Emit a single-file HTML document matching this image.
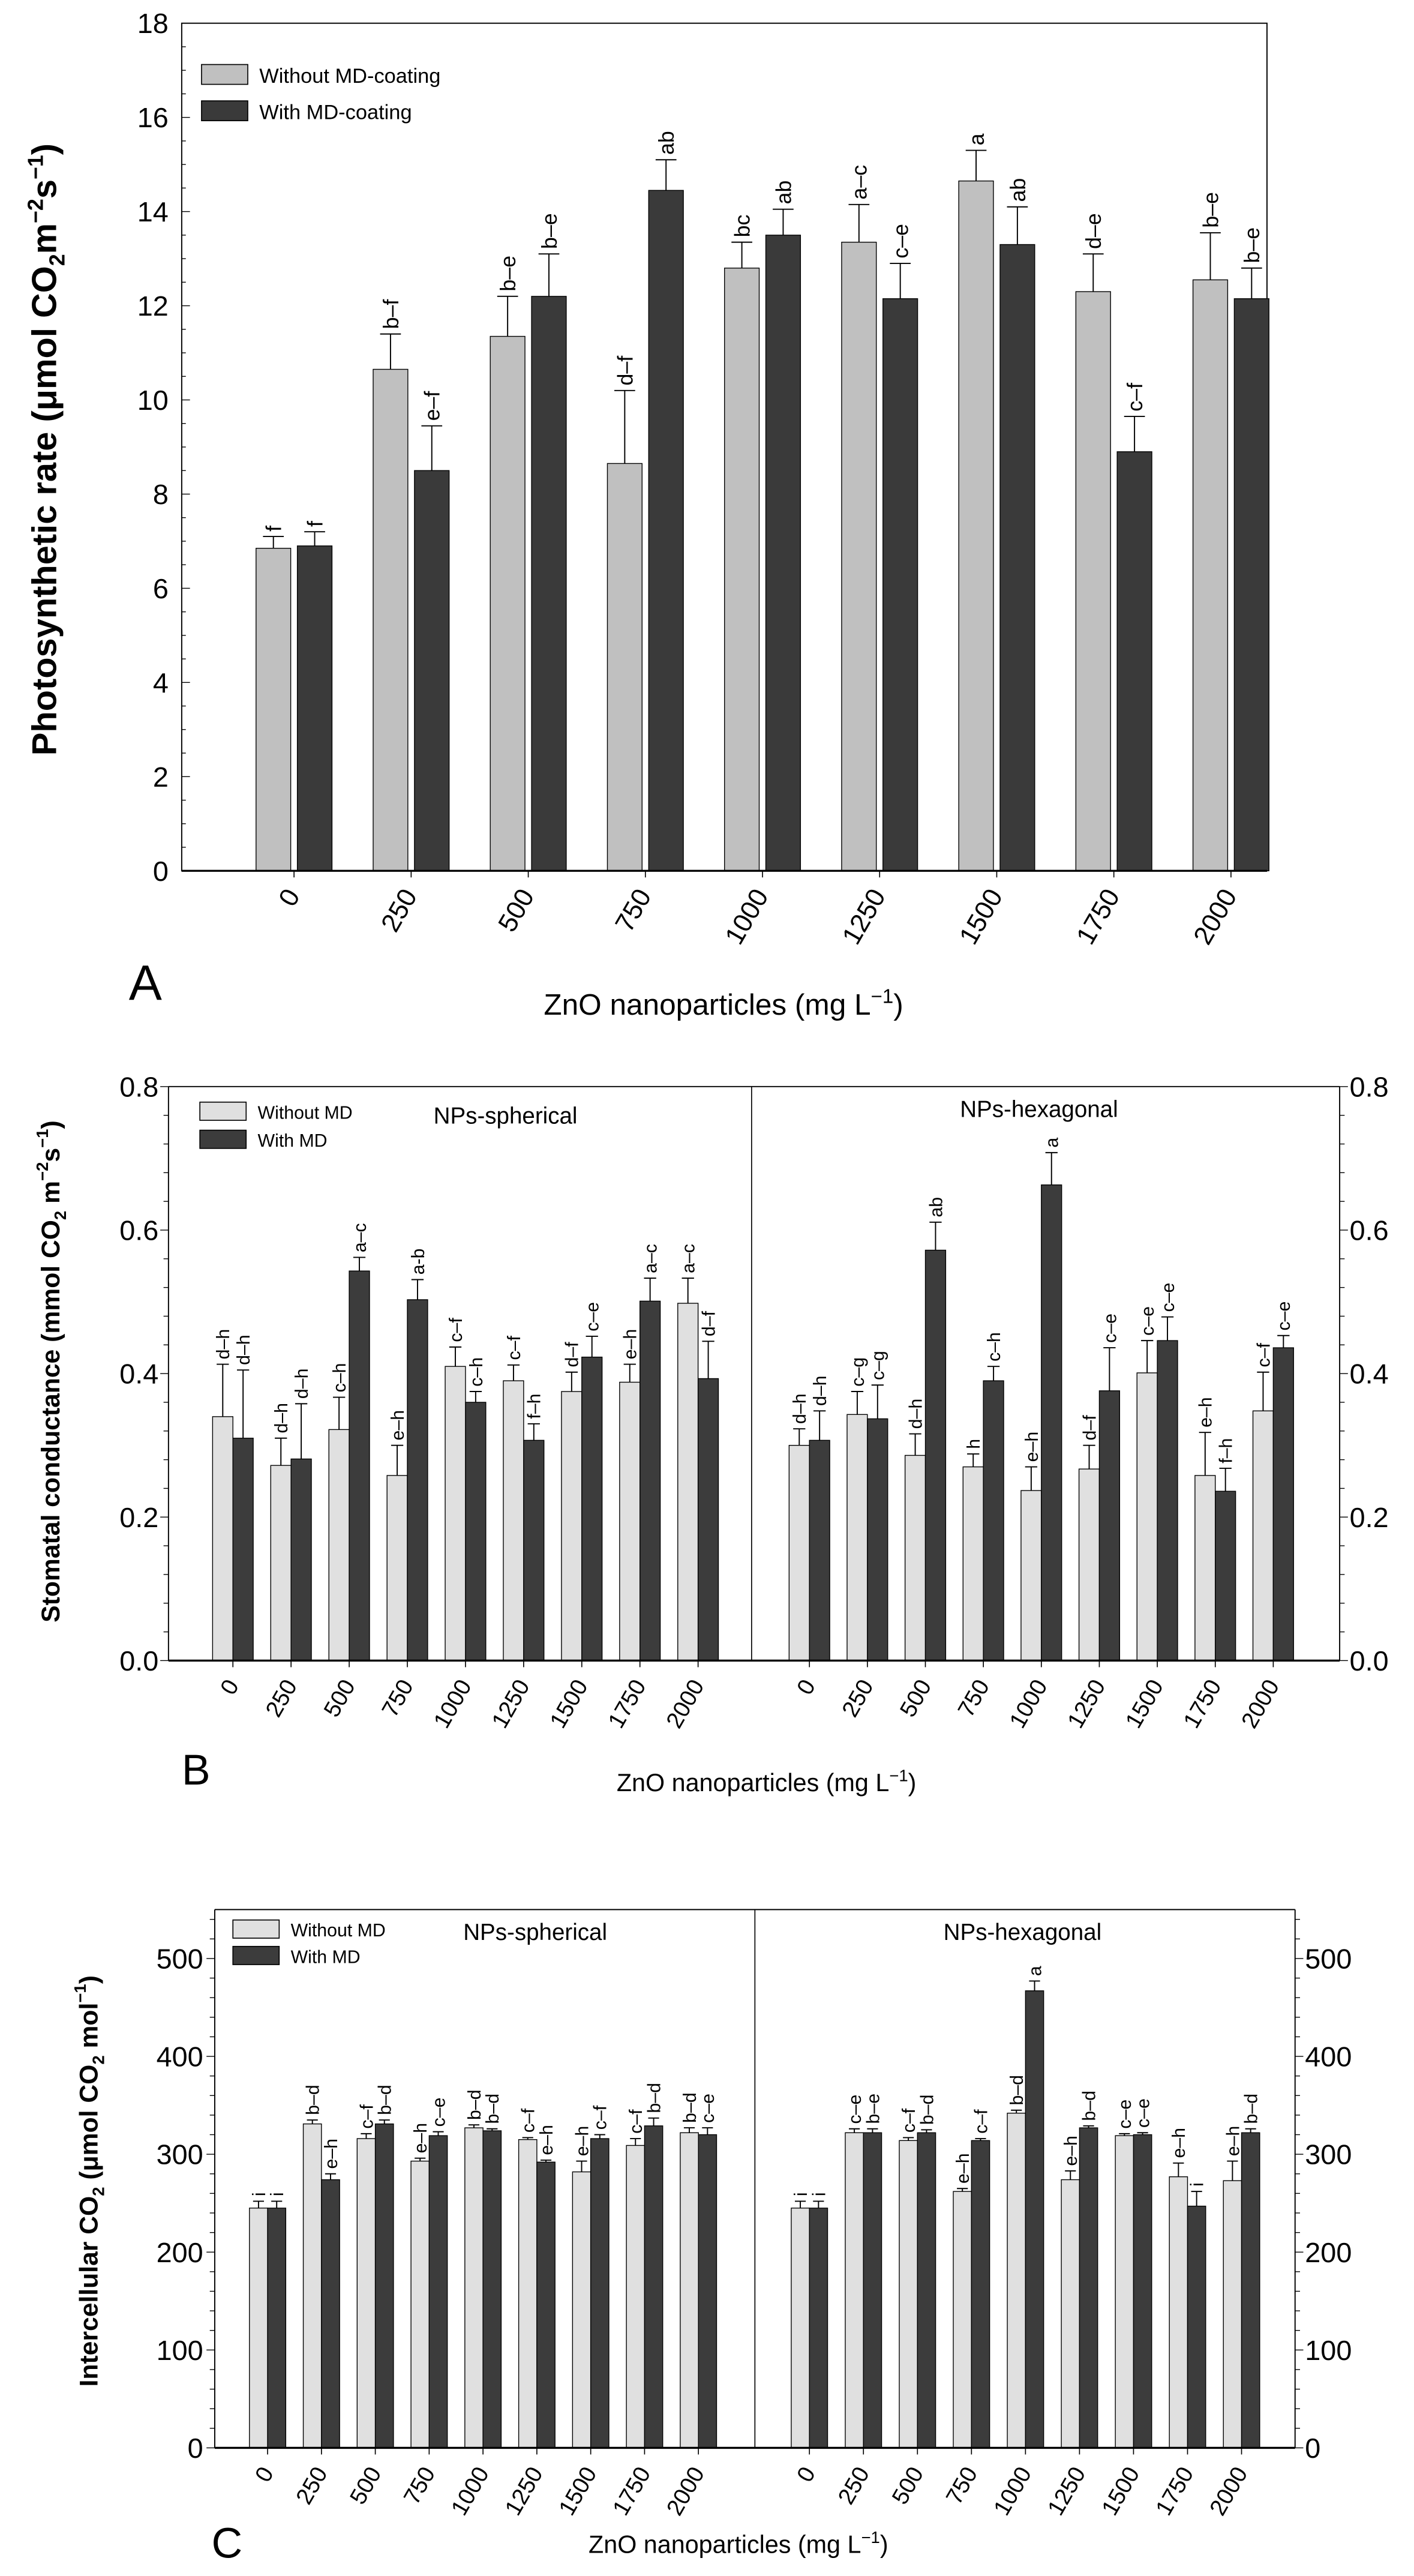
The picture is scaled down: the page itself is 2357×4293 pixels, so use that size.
<!DOCTYPE html>
<html><head><meta charset="utf-8"><style>
html,body{margin:0;padding:0;background:#fff}
svg{display:block}
text{font-family:"Liberation Sans",sans-serif;fill:#000}
</style></head><body>
<svg id="fig" xmlns="http://www.w3.org/2000/svg" width="2357" height="4293" viewBox="0 0 856 1559"></svg>
<script>
// ---------- Data: Chart A ----------
const A_cats = ['0','250','500','750','1000','1250','1500','1750','2000'];
const A_grey = [6.85,10.65,11.35,8.65,12.8,13.35,14.65,12.3,12.55];
const A_greyErr = [7.1,11.4,12.2,10.2,13.35,14.15,15.3,13.1,13.55];
const A_dark = [6.9,8.5,12.2,14.45,13.5,12.15,13.3,8.9,12.15];
const A_darkErr = [7.2,9.45,13.1,15.1,14.05,12.9,14.1,9.65,12.8];
const A_greyLbl = ['f','b–f','b–e','d–f','bc','a–c','a','d–e','b–e'];
const A_darkLbl = ['f','e–f','b–e','ab','ab','c–e','ab','c–f','b–e'];
const A_ticks = [0,2,4,6,8,10,12,14,16,18];
// ---------- Data: Chart B ----------
const B_cats = ['0','250','500','750','1000','1250','1500','1750','2000'];
const B_sph_grey = [0.34,0.272,0.322,0.258,0.41,0.39,0.375,0.388,0.498];
const B_sph_greyErr = [0.413,0.31,0.367,0.30,0.437,0.412,0.402,0.413,0.533];
const B_sph_dark = [0.31,0.281,0.543,0.503,0.36,0.307,0.423,0.501,0.393];
const B_sph_darkErr = [0.405,0.358,0.562,0.531,0.375,0.33,0.452,0.533,0.445];
const B_sph_greyLbl = ['d–h','d–h','c–h','e–h','c–f','c–f','d–f','e–h','a–c'];
const B_sph_darkLbl = ['d–h','d–h','a–c','a-b','c–h','f–h','c–e','a–c','d–f'];
const B_hex_grey = [0.30,0.343,0.286,0.27,0.237,0.267,0.401,0.258,0.348];
const B_hex_greyErr = [0.323,0.375,0.316,0.288,0.27,0.30,0.446,0.318,0.402];
const B_hex_dark = [0.307,0.337,0.572,0.39,0.663,0.376,0.446,0.236,0.436];
const B_hex_darkErr = [0.348,0.384,0.611,0.41,0.708,0.436,0.479,0.268,0.453];
const B_hex_greyLbl = ['d–h','c–g','d–h','h','e–h','d–f','c–e','e–h','c–f'];
const B_hex_darkLbl = ['d–h','c–g','ab','c–h','a','c–e','c–e','f–h','c–e'];
const B_ticks = ['0.0','0.2','0.4','0.6','0.8'];
// ---------- Data: Chart C ----------
const C_cats = ['0','250','500','750','1000','1250','1500','1750','2000'];
const C_sph_grey = [245,331,316,293,327,315,282,309,322];
const C_sph_greyErr = [252,335,321,296,330,317,293,316,327];
const C_sph_dark = [245,274,331,319,324,292,316,329,320];
const C_sph_darkErr = [252,280,335,323,326,294,320,337,327];
const C_sph_greyLbl = ['i','b–d','c–f','e–h','b–d','c–f','e–h','c–f','b–d'];
const C_sph_darkLbl = ['i','e–h','b–d','c–e','b–d','e–h','c–f','b–d','c–e'];
const C_hex_grey = [245,322,314,262,342,274,319,277,273];
const C_hex_greyErr = [252,326,317,265,345,283,321,291,293];
const C_hex_dark = [245,322,322,314,467,327,320,247,322];
const C_hex_darkErr = [252,326,325,316,477,329,322,262,326];
const C_hex_greyLbl = ['i','c–e','c–f','e–h','b–d','e–h','c–e','e–h','e–h'];
const C_hex_darkLbl = ['i','b–e','b–d','c–f','a','b–d','c–e','i','b–d'];
const C_ticks = [0,100,200,300,400,500];

const NS = 'http://www.w3.org/2000/svg';
const svg = document.getElementById('fig');
function mk(tag, attrs, parent, txt){
  const e = document.createElementNS(NS, tag);
  for (const k in attrs) e.setAttribute(k, attrs[k]);
  if (txt !== undefined) e.textContent = txt;
  (parent || svg).appendChild(e);
  return e;
}
function line(x1,y1,x2,y2,w,p){ return mk('line',{x1,y1,x2,y2,stroke:'#000','stroke-width':w||0.6},p); }

function drawBars(g, cats, x0, step, bw, gap, yf, grey, greyErr, dark, darkErr, gL, dL, cGrey, cDark, fs, prefix){
  cats.forEach((c,i)=>{
    const cx = x0 + i*step;
    const sets = [[grey,greyErr,gL,cGrey,cx-gap/2-bw,'without'],[dark,darkErr,dL,cDark,cx+gap/2,'with']];
    sets.forEach(s=>{
      const [vals,errs,lbls,col,bx,nm] = s;
      const yt = yf(vals[i]), yb = yf(0), ye = yf(errs[i]);
      const r = mk('rect',{x:bx,y:yt,width:bw,height:yb-yt,fill:col,stroke:'#000','stroke-width':0.5},g);
      
      
      const bc = bx + bw/2;
      const el = line(bc,yt,bc,ye,0.7,g);
      
      
      line(bc-bw*0.3,ye,bc+bw*0.3,ye,0.7,g);
      const t = mk('text',{x:bc+fs*0.36,y:ye-3,'font-size':fs,'text-anchor':'start',transform:`rotate(-90 ${bc+fs*0.36} ${ye-3})`},g,lbls[i]);
      
      
    });
  });
}
function xLabels(g, cats, x0, step, yb, fs, prefix){
  cats.forEach((c,i)=>{
    const cx = x0+i*step;
    line(cx,yb,cx,yb+4,0.6,g);
    const tx = cx+4, ty = yb+15;
    const t = mk('text',{x:tx,y:ty,'font-size':fs,'text-anchor':'end',transform:`rotate(-60 ${tx} ${ty})`},g,c);
    
    
  });
}
function legend(g, x, y1, y2, w, h, c1, c2, t1, t2, fs, prefix){
  const r1 = mk('rect',{x,y:y1,width:w,height:h,fill:c1,stroke:'#000','stroke-width':0.6},g);
  
  
  const r2 = mk('rect',{x,y:y2,width:w,height:h,fill:c2,stroke:'#000','stroke-width':0.6},g);
  
  
  const a = mk('text',{x:x+w+7,y:y1+h-1,'font-size':fs},g,t1);
  
  
  const b = mk('text',{x:x+w+7,y:y2+h-1,'font-size':fs},g,t2);
  
  
}

// ================= Chart A =================
(function(){
  const g = mk('g',{});
  
  
  const L=110,R=767,T=14,B=527,max=18;
  const y = v => B - v/max*(B-T);
  mk('rect',{x:L,y:T,width:R-L,height:B-T,fill:'none',stroke:'#000','stroke-width':0.7},g);
  for(let v=0;v<=max+0.001;v+=0.5){ line(L,y(v),L+(v%2===0?5:2.5),y(v),0.5,g); }
  A_ticks.forEach(v=>{
    const t = mk('text',{x:L-8,y:y(v)+6,'font-size':17,'text-anchor':'end'},g,String(v));
    
    
  });
  drawBars(g,A_cats,178,70.9,21,4,y,A_grey,A_greyErr,A_dark,A_darkErr,A_greyLbl,A_darkLbl,'#c0c0c0','#3a3a3a',13,'a');
  line(L,B,R,B,1.2,g);
  xLabels(g,A_cats,178,70.9,B,16,'a');
  legend(g,122,39,61,28,12,'#c0c0c0','#3a3a3a','Without MD-coating','With MD-coating',12.5,'a');
  const yt = mk('text',{x:34,y:272,'font-size':21,'font-weight':'bold','text-anchor':'middle',transform:'rotate(-90 34 272)'},g);
  yt.innerHTML = 'Photosynthetic rate (μmol CO<tspan font-size="13" dy="5">2</tspan><tspan dy="-5">m</tspan><tspan font-size="13" dy="-8">−2</tspan><tspan dy="8">s</tspan><tspan font-size="13" dy="-8">−1</tspan><tspan dy="8">)</tspan>';
  
  
  const xt = mk('text',{x:438,y:614,'font-size':18,'text-anchor':'middle'},g);
  xt.innerHTML = 'ZnO nanoparticles (mg L<tspan font-size="12" dy="-7">−1</tspan><tspan dy="7">)</tspan>';
  
  
  const pl = mk('text',{x:78,y:605,'font-size':30},g,'A');
  
  
})();

// ================= Chart B =================
(function(){
  const g = mk('g',{});
  
  
  const L=102,R=811,T=657.6,B=1005,D=455,max=0.8;
  const y = v => B - v/max*(B-T);
  line(L,T,R,T,0.7,g); line(L,T,L,B,0.7,g); line(R,T,R,B,0.7,g); line(D,T,D,B,0.6,g);
  for(let k=0;k<=20;k++){ const v=k*0.04; const major=k%5===0;
    line(L,y(v),L-(major?5:3),y(v),0.5,g); line(R,y(v),R+(major?5:3),y(v),0.5,g); }
  B_ticks.forEach(s=>{
    const v=parseFloat(s);
    const t1 = mk('text',{x:L-6,y:y(v)+6,'font-size':17,'text-anchor':'end'},g,s);
    
    
    const t2 = mk('text',{x:R+6,y:y(v)+6,'font-size':17,'text-anchor':'start'},g,s);
    
    
  });
  drawBars(g,B_cats,141,35.2,12.3,0,y,B_sph_grey,B_sph_greyErr,B_sph_dark,B_sph_darkErr,B_sph_greyLbl,B_sph_darkLbl,'#e0e0e0','#3c3c3c',11,'b-spherical');
  drawBars(g,B_cats,490,35.1,12.3,0,y,B_hex_grey,B_hex_greyErr,B_hex_dark,B_hex_darkErr,B_hex_greyLbl,B_hex_darkLbl,'#e0e0e0','#3c3c3c',11,'b-hexagonal');
  line(L,B,R,B,1.2,g);
  xLabels(g,B_cats,141,35.2,B,14,'b-spherical');
  xLabels(g,B_cats,490,35.1,B,14,'b-hexagonal');
  legend(g,121,667,684,28,11,'#e0e0e0','#3c3c3c','Without MD','With MD',11,'b');
  const s1 = mk('text',{x:306,y:680,'font-size':14,'text-anchor':'middle'},g,'NPs-spherical');
  
  
  const s2 = mk('text',{x:629,y:676,'font-size':14,'text-anchor':'middle'},g,'NPs-hexagonal');
  
  
  const yt = mk('text',{x:36,y:830,'font-size':15.5,'font-weight':'bold','text-anchor':'middle',transform:'rotate(-90 36 830)'},g);
  yt.innerHTML = 'Stomatal conductance (mmol CO<tspan font-size="10" dy="4">2</tspan><tspan dy="-4"> m</tspan><tspan font-size="10" dy="-7">−2</tspan><tspan dy="7">s</tspan><tspan font-size="10" dy="-7">−1</tspan><tspan dy="7">)</tspan>';
  
  
  const xt = mk('text',{x:464,y:1084,'font-size':15,'text-anchor':'middle'},g);
  xt.innerHTML = 'ZnO nanoparticles (mg L<tspan font-size="10" dy="-6">−1</tspan><tspan dy="6">)</tspan>';
  
  
  const pl = mk('text',{x:110,y:1080,'font-size':26},g,'B');
  
  
})();

// ================= Chart C =================
(function(){
  const g = mk('g',{});
  
  
  const L=130,R=784,T=1155.7,B=1481.5,D=457,max=550;
  const y = v => B - v/max*(B-T);
  line(L,T,R,T,0.7,g); line(L,T,L,B,0.7,g); line(R,T,R,B,0.7,g); line(D,T,D,B,0.6,g);
  for(let v=0;v<=max;v+=20){ const major=v%100===0;
    line(L,y(v),L-(major?5:3),y(v),0.5,g); line(R,y(v),R+(major?5:3),y(v),0.5,g); }
  C_ticks.forEach(v=>{
    const t1 = mk('text',{x:L-7,y:y(v)+6,'font-size':17,'text-anchor':'end'},g,String(v));
    
    
    const t2 = mk('text',{x:R+6,y:y(v)+6,'font-size':17,'text-anchor':'start'},g,String(v));
    
    
  });
  drawBars(g,C_cats,162,32.6,11,0,y,C_sph_grey,C_sph_greyErr,C_sph_dark,C_sph_darkErr,C_sph_greyLbl,C_sph_darkLbl,'#e0e0e0','#3c3c3c',11,'c-spherical');
  drawBars(g,C_cats,490,32.7,11,0,y,C_hex_grey,C_hex_greyErr,C_hex_dark,C_hex_darkErr,C_hex_greyLbl,C_hex_darkLbl,'#e0e0e0','#3c3c3c',11,'c-hexagonal');
  line(L,B,R,B,1.2,g);
  xLabels(g,C_cats,162,32.6,B,14,'c-spherical');
  xLabels(g,C_cats,490,32.7,B,14,'c-hexagonal');
  legend(g,141,1162,1178,28,11,'#e0e0e0','#3c3c3c','Without MD','With MD',11,'c');
  const s1 = mk('text',{x:324,y:1174,'font-size':14,'text-anchor':'middle'},g,'NPs-spherical');
  
  
  const s2 = mk('text',{x:619,y:1174,'font-size':14,'text-anchor':'middle'},g,'NPs-hexagonal');
  
  
  const yt = mk('text',{x:59,y:1320,'font-size':15.5,'font-weight':'bold','text-anchor':'middle',transform:'rotate(-90 59 1320)'},g);
  yt.innerHTML = 'Intercellular CO<tspan font-size="10" dy="4">2</tspan><tspan dy="-4"> (μmol CO</tspan><tspan font-size="10" dy="4">2</tspan><tspan dy="-4"> mol</tspan><tspan font-size="10" dy="-7">−1</tspan><tspan dy="7">)</tspan>';
  
  
  const xt = mk('text',{x:447,y:1545,'font-size':15,'text-anchor':'middle'},g);
  xt.innerHTML = 'ZnO nanoparticles (mg L<tspan font-size="10" dy="-6">−1</tspan><tspan dy="6">)</tspan>';
  
  
  const pl = mk('text',{x:128,y:1548,'font-size':26},g,'C');
  
  
})();
</script>
</body></html>
